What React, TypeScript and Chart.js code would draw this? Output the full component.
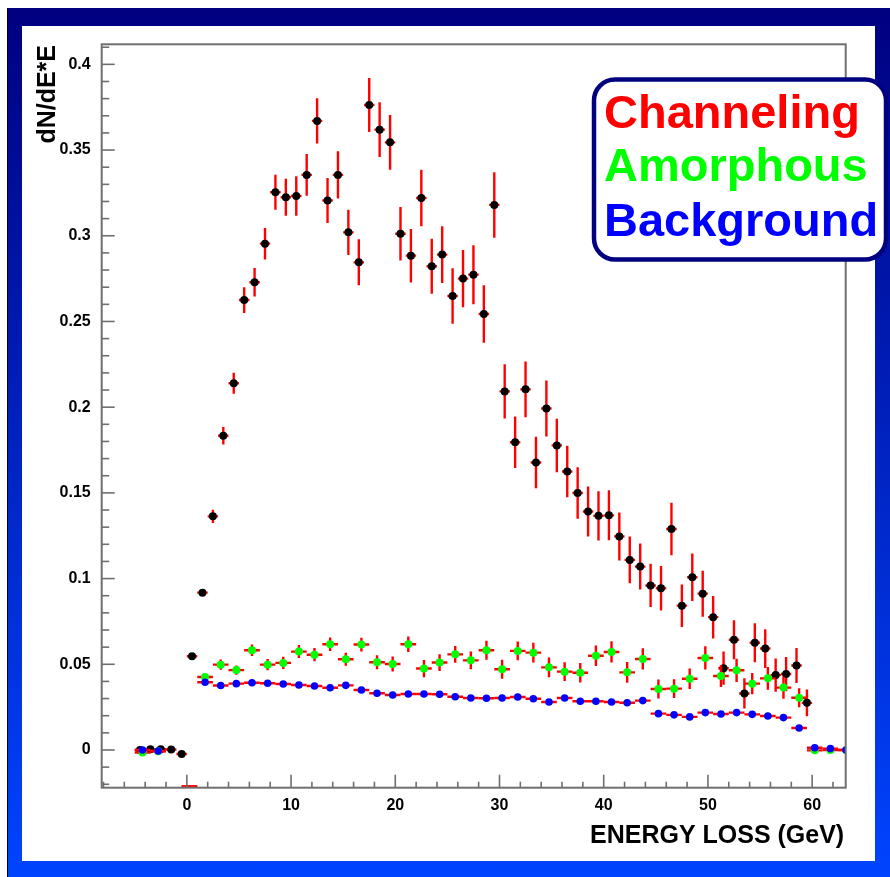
import React, { useEffect, useRef } from 'react';
import { Chart, registerables } from 'chart.js';

Chart.register(...registerables);

// ---------- DATA ----------
// Channeling: 1 GeV bins
const chBins = [
  -4.5, -3.5, -2.5, -1.5, -0.5, 0.5, 1.5, 2.5, 3.5, 4.5, 5.5, 6.5, 7.5, 8.5, 9.5, 10.5,
  11.5, 12.5, 13.5, 14.5, 15.5, 16.5, 17.5, 18.5, 19.5, 20.5, 21.5, 22.5, 23.5, 24.5, 25.5,
  26.5, 27.5, 28.5, 29.5, 30.5, 31.5, 32.5, 33.5, 34.5, 35.5, 36.5, 37.5, 38.5, 39.5, 40.5,
  41.5, 42.5, 43.5, 44.5, 45.5, 46.5, 47.5, 48.5, 49.5, 50.5, 51.5, 52.5, 53.5, 54.5, 55.5,
  56.5, 57.5, 58.5, 59.5,
];
const chValues = [
  0.0, 0.0004, 0.0004, 0.0003, -0.0023, 0.0547, 0.0918, 0.1363, 0.1833, 0.214, 0.2625,
  0.2729, 0.2954, 0.3254, 0.3225, 0.3232, 0.3355, 0.367, 0.3206, 0.3355, 0.302, 0.2845,
  0.3763, 0.3619, 0.3545, 0.3012, 0.2884, 0.322, 0.2822, 0.289, 0.2649, 0.275, 0.2773,
  0.2544, 0.318, 0.2092, 0.1795, 0.2104, 0.1677, 0.1992, 0.1777, 0.1625, 0.1499, 0.1391,
  0.1366, 0.1369, 0.1246, 0.1109, 0.107, 0.096, 0.0944, 0.1289, 0.0842, 0.1008, 0.0912,
  0.0775, 0.0477, 0.0643, 0.033, 0.0626, 0.0592, 0.0437, 0.0443, 0.0493, 0.0275,
];
const chErrors = [
  0.0005, 0.0005, 0.0005, 0.0005, 0.0005, 0.001, 0.0013, 0.0039, 0.0051, 0.0061, 0.0075,
  0.0083, 0.0092, 0.0102, 0.0108, 0.0115, 0.0122, 0.0132, 0.0131, 0.0138, 0.0132, 0.0134,
  0.0158, 0.016, 0.016, 0.0156, 0.0156, 0.0165, 0.016, 0.0165, 0.0162, 0.0167, 0.0172,
  0.0168, 0.0191, 0.0158, 0.015, 0.0163, 0.015, 0.0163, 0.0156, 0.015, 0.015, 0.0146,
  0.0144, 0.0146, 0.014, 0.0136, 0.0134, 0.0126, 0.013, 0.0153, 0.0124, 0.0139, 0.0134,
  0.0124, 0.0097, 0.0114, 0.0088, 0.0114, 0.0113, 0.0097, 0.01, 0.0102, 0.0078,
];
const chHalfWidth = 0.5;

// Amorphous & Background: 1.5 GeV bins
const wideBins = [
  -4.25, -2.75, -1.25, 0.25, 1.75, 3.25, 4.75, 6.25, 7.75, 9.25, 10.75, 12.25, 13.75, 15.25,
  16.75, 18.25, 19.75, 21.25, 22.75, 24.25, 25.75, 27.25, 28.75, 30.25, 31.75, 33.25, 34.75,
  36.25, 37.75, 39.25, 40.75, 42.25, 43.75, 45.25, 46.75, 48.25, 49.75, 51.25, 52.75, 54.25,
  55.75, 57.25, 58.75, 60.25, 61.75, 63.25,
];
const amValues = [
  -0.0015, -0.0008, null, -0.03, 0.0426, 0.0498, 0.0466, 0.0582, 0.0498, 0.0508, 0.0574,
  0.0556, 0.0617, 0.0529, 0.0615, 0.0512, 0.0502, 0.0617, 0.0475, 0.051, 0.0558, 0.0523,
  0.0582, 0.0471, 0.0578, 0.0568, 0.0482, 0.0457, 0.0451, 0.055, 0.0572, 0.0453, 0.0531,
  0.0356, 0.0358, 0.0416, 0.0537, 0.0432, 0.0465, 0.0387, 0.0418, 0.0364, 0.0305, -0.0002,
  0.0, 0.0,
];
const amErrors = [
  0.0005, 0.0005, 0, 0, 0.0018, 0.003, 0.0027, 0.0034, 0.0033, 0.0036, 0.0038, 0.0039,
  0.0039, 0.0038, 0.004, 0.0041, 0.0044, 0.0045, 0.005, 0.0049, 0.0049, 0.0052, 0.0056,
  0.0056, 0.0055, 0.0057, 0.0057, 0.0055, 0.0057, 0.006, 0.0062, 0.006, 0.0062, 0.0055,
  0.0055, 0.006, 0.0068, 0.0064, 0.0068, 0.0062, 0.0066, 0.0065, 0.0055, 0.001, 0.001, 0,
];
const bgValues = [
  0.0, -0.0006, null, -0.03, 0.0395, 0.0376, 0.0387, 0.0392, 0.0389, 0.0385, 0.0379, 0.0373,
  0.0363, 0.0377, 0.035, 0.0331, 0.0321, 0.0327, 0.0327, 0.0325, 0.0311, 0.0303, 0.0302,
  0.0303, 0.0309, 0.0299, 0.028, 0.0303, 0.0284, 0.0284, 0.028, 0.0276, 0.0288, 0.0212,
  0.0205, 0.0193, 0.0218, 0.021, 0.0218, 0.0208, 0.0198, 0.0189, 0.0128, 0.0013, 0.0008, 0.0,
];
const bgErrors = [
  0.0004, 0.0004, 0, 0, 0.0012, 0.0012, 0.0012, 0.0012, 0.0012, 0.0012, 0.0012, 0.0012,
  0.0012, 0.0012, 0.0012, 0.0012, 0.0012, 0.0012, 0.0012, 0.0012, 0.0012, 0.0012, 0.0012,
  0.0012, 0.0012, 0.0012, 0.0012, 0.0012, 0.0012, 0.0012, 0.0012, 0.0012, 0.0012, 0.0011,
  0.0011, 0.0011, 0.0011, 0.0011, 0.0011, 0.0011, 0.0011, 0.0011, 0.0009, 0.0004, 0.0004, 0.0004,
];
const wideHalfWidth = 0.75;

const legendLabels = ['Channeling', 'Amorphous', 'Background'];
const legendColors = ['#ff0000', '#00ff00', '#0000ff'];
const xTitle = 'ENERGY LOSS (GeV)';
const yTitle = 'dN/dE*E';

// ---------- STYLE ----------
const FONT = '"Liberation Sans", Arial, Helvetica, sans-serif';
const AXIS_COLOR = '#6f6f6f';
const ERR_COLOR = '#ff0000';

const toPoints = (xs: number[], ys: (number | null)[]) =>
  xs.map((x, i) => ({ x, y: ys[i] }));

const errorBarPlugin = {
  id: 'errorBars',
  beforeDatasetDraw(chart: any, args: any) {
    const ds = chart.data.datasets[args.index];
    const { ctx, chartArea: ca } = chart;
    const xs = chart.scales.x;
    const ys = chart.scales.y;
    ctx.save();
    ctx.beginPath();
    ctx.rect(ca.left, ca.top, ca.right - ca.left, ca.bottom - ca.top);
    ctx.clip();
    ctx.strokeStyle = ERR_COLOR;
    ctx.lineWidth = 2.4;
    ds.data.forEach((p: any, i: number) => {
      if (p.y == null) return;
      const e = ds.errY[i] || 0;
      const hw = ds.errX;
      const under = p.y < ys.min;
      const py = under ? ca.bottom - 1.2 : ys.getPixelForValue(p.y);
      const x0 = xs.getPixelForValue(p.x - hw);
      const x1 = xs.getPixelForValue(p.x + hw);
      ctx.beginPath();
      ctx.moveTo(x0, py);
      ctx.lineTo(x1, py);
      ctx.stroke();
      if (!under && e > 0) {
        const px = xs.getPixelForValue(p.x);
        ctx.beginPath();
        ctx.moveTo(px, ys.getPixelForValue(p.y - e));
        ctx.lineTo(px, ys.getPixelForValue(p.y + e));
        ctx.stroke();
      }
    });
    ctx.restore();
  },
};

const framePlugin = {
  id: 'frameAndTitles',
  afterDatasetsDraw(chart: any) {
    const { ctx, chartArea: ca } = chart;
    const xs = chart.scales.x;
    const ys = chart.scales.y;
    ctx.save();
    ctx.strokeStyle = AXIS_COLOR;
    ctx.lineWidth = 2;
    ctx.strokeRect(ca.left, ca.top, ca.right - ca.left, ca.bottom - ca.top);
    ctx.lineWidth = 1.6;
    // y ticks (minor every 0.01, major every 0.05), drawn inward
    for (let k = -5; k <= 45; k++) {
      const v = k / 100;
      if (v < ys.min || v > ys.max) continue;
      const py = ys.getPixelForValue(v);
      const len = k % 5 === 0 ? 13 : 7.5;
      ctx.beginPath();
      ctx.moveTo(ca.left, py);
      ctx.lineTo(ca.left + len, py);
      ctx.stroke();
    }
    // x ticks (minor every 2, major every 10)
    for (let k = -10; k <= 40; k++) {
      const v = k * 2;
      if (v < xs.min || v > xs.max) continue;
      const px = xs.getPixelForValue(v);
      const len = v % 10 === 0 ? 13 : 6;
      ctx.beginPath();
      ctx.moveTo(px, ca.bottom);
      ctx.lineTo(px, ca.bottom - len);
      ctx.stroke();
    }
    ctx.restore();
  },
  afterDraw(chart: any) {
    const { ctx, chartArea: ca } = chart;
    ctx.save();
    ctx.fillStyle = '#000';
    ctx.font = `bold 25px ${FONT}`;
    // x title, right aligned
    ctx.textAlign = 'right';
    ctx.textBaseline = 'alphabetic';
    ctx.fillText(xTitle, ca.right - 1.5, ca.bottom + 55.5);
    // y title, rotated, aligned to top
    ctx.save();
    ctx.translate(46.5, ca.top + 0.7);
    ctx.rotate(-Math.PI / 2);
    ctx.textAlign = 'right';
    ctx.fillText(yTitle, 0, 0);
    ctx.restore();

    // legend box
    const bx = 586, by = 71.5, bw = 292, bh = 180, r = 21;
    ctx.beginPath();
    ctx.moveTo(bx + r, by);
    ctx.lineTo(bx + bw - r, by);
    ctx.arcTo(bx + bw, by, bx + bw, by + r, r);
    ctx.lineTo(bx + bw, by + bh - r);
    ctx.arcTo(bx + bw, by + bh, bx + bw - r, by + bh, r);
    ctx.lineTo(bx + r, by + bh);
    ctx.arcTo(bx, by + bh, bx, by + bh - r, r);
    ctx.lineTo(bx, by + r);
    ctx.arcTo(bx, by, bx + r, by, r);
    ctx.closePath();
    ctx.fillStyle = '#ffffff';
    ctx.fill();
    ctx.strokeStyle = '#000080';
    ctx.lineWidth = 4.5;
    ctx.stroke();

    ctx.font = `bold 47px ${FONT}`;
    ctx.textAlign = 'left';
    const baselines = [120, 173, 227.5];
    legendLabels.forEach((t, i) => {
      ctx.fillStyle = legendColors[i];
      ctx.fillText(t, 596, baselines[i]);
    });
    ctx.restore();
  },
};

export default function App() {
  const ref = useRef<HTMLCanvasElement>(null);

  useEffect(() => {
    const canvas = ref.current;
    if (!canvas) return;
    const tickFont = { family: FONT, size: 16, weight: 'bold' as const };
    const chart = new Chart(canvas, {
      type: 'scatter',
      data: {
        datasets: [
          {
            label: 'Background',
            data: toPoints(wideBins, bgValues),
            errY: bgErrors,
            errX: wideHalfWidth,
            backgroundColor: '#0000ff',
            borderWidth: 0,
            pointRadius: 3.8,
            order: 0,
          } as any,
          {
            label: 'Amorphous',
            data: toPoints(wideBins, amValues),
            errY: amErrors,
            errX: wideHalfWidth,
            backgroundColor: '#00ff00',
            borderWidth: 0,
            pointRadius: 4,
            order: 1,
          } as any,
          {
            label: 'Channeling',
            data: toPoints(chBins, chValues),
            errY: chErrors,
            errX: chHalfWidth,
            backgroundColor: '#000000',
            borderWidth: 0,
            pointRadius: 4,
            order: 2,
          } as any,
        ],
      },
      options: {
        animation: false,
        responsive: false,
        devicePixelRatio: 1,
        layout: { padding: { top: 36.3, right: 44.3, left: 0, bottom: 0 } },
        plugins: { legend: { display: false }, tooltip: { enabled: false } },
        scales: {
          x: {
            type: 'linear',
            min: -8.17,
            max: 63.22,
            grid: { display: false, drawTicks: false },
            border: { display: false },
            ticks: {
              stepSize: 10,
              includeBounds: false,
              color: '#000',
              font: tickFont,
              padding: 8,
              maxRotation: 0,
              autoSkip: false,
            },
            afterFit(scale: any) {
              scale.height = 89.3;
            },
          },
          y: {
            type: 'linear',
            min: -0.022,
            max: 0.4117,
            grid: { display: false, drawTicks: false },
            border: { display: false },
            ticks: {
              stepSize: 0.05,
              includeBounds: false,
              color: '#000',
              font: tickFont,
              padding: 11,
              callback: (v: any) => {
                const r = Math.round(Number(v) * 100) / 100;
                return r === 0 ? '0' : String(r);
              },
            },
            afterFit(scale: any) {
              scale.width = 93.7;
            },
          },
        },
      } as any,
      plugins: [errorBarPlugin, framePlugin],
    });
    return () => chart.destroy();
  }, []);

  return (
    <div
      style={{
        position: 'absolute',
        left: 7,
        top: 8,
        width: 883,
        height: 869,
        boxSizing: 'border-box',
        borderLeft: '1px solid #000',
        background: 'linear-gradient(to bottom, #000080, #0044ff)',
        overflow: 'hidden',
      }}
    >
      <div
        style={{
          position: 'absolute',
          left: 14,
          top: 18,
          width: 853,
          height: 835,
          background: '#ffffff',
        }}
      />
      <canvas
        ref={ref}
        width={882}
        height={869}
        style={{ position: 'absolute', left: 0, top: 0, width: 882, height: 869 }}
      />
    </div>
  );
}
